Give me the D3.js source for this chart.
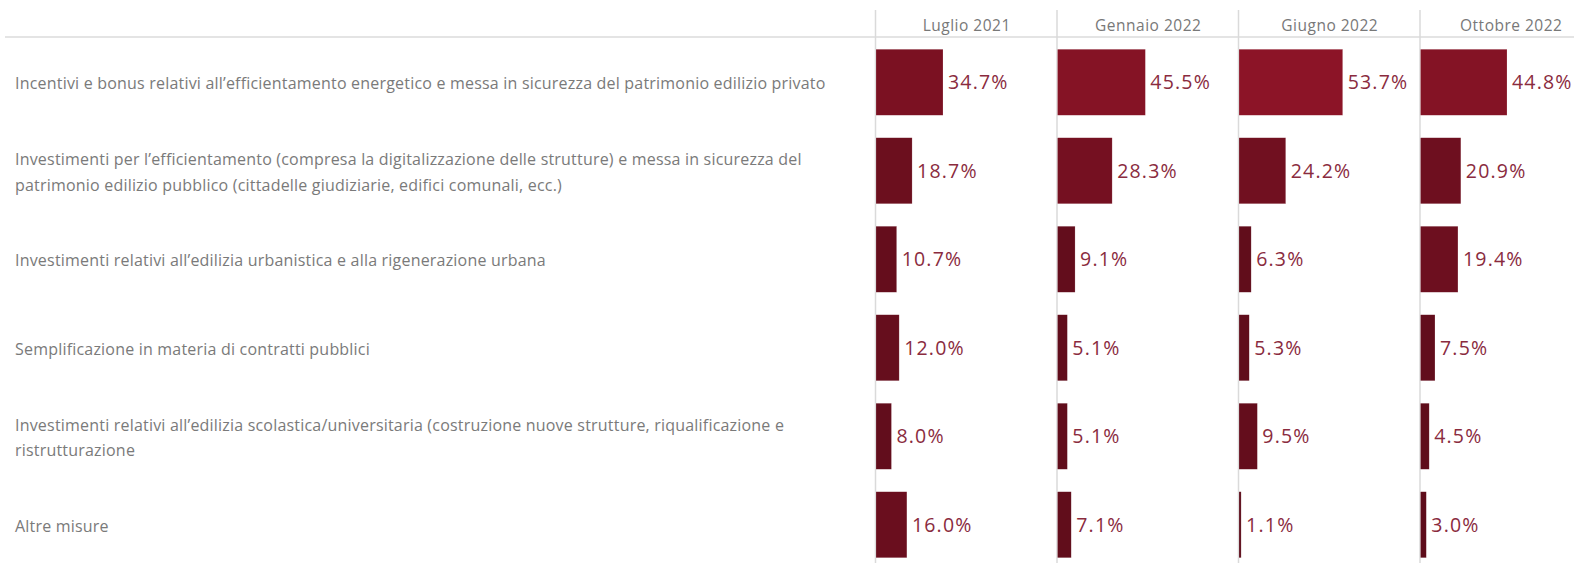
<meta charset="utf-8">
<style>
  body { margin: 0; background: #fff; }
  text { font-family: "Open Sans", Lato, sans-serif; }
</style>
<svg width="1586" height="563"></svg>
<script src="https://cdn.jsdelivr.net/npm/d3@7"></script>
<script>
// categories (rows), each as lines of text
var categories = [
  ["Incentivi e bonus relativi all\u2019efficientamento energetico e messa in sicurezza del patrimonio edilizio privato"],
  ["Investimenti per l\u2019efficientamento (compresa la digitalizzazione delle strutture) e messa in sicurezza del",
   "patrimonio edilizio pubblico (cittadelle giudiziarie, edifici comunali, ecc.)"],
  ["Investimenti relativi all\u2019edilizia urbanistica e alla rigenerazione urbana"],
  ["Semplificazione in materia di contratti pubblici"],
  ["Investimenti relativi all\u2019edilizia scolastica/universitaria (costruzione nuove strutture, riqualificazione e",
   "ristrutturazione"],
  ["Altre misure"]
];
var periods = ["Luglio 2021", "Gennaio 2022", "Giugno 2022", "Ottobre 2022"];

// values (%) per period, in category order
var luglio2021  = [34.7, 18.7, 10.7, 12.0, 8.0, 16.0];
var gennaio2022 = [45.5, 28.3, 9.1, 5.1, 5.1, 7.1];
var giugno2022  = [53.7, 24.2, 6.3, 5.3, 9.5, 1.1];
var ottobre2022 = [44.8, 20.9, 19.4, 7.5, 4.5, 3.0];
var series = [luglio2021, gennaio2022, giugno2022, ottobre2022];

var svg = d3.select("svg"),
    width = +svg.attr("width"),
    height = +svg.attr("height");

var headerY = 38,
    rowStep = 88.5,
    colStart = 876,
    colW = 181.5;

var rowIdx = d3.range(categories.length);

var y = d3.scaleBand()
  .domain(rowIdx)
  .range([headerY, headerY + rowStep * categories.length])
  .paddingInner(0.254)
  .paddingOuter(0.127);

var col = d3.scaleBand()
  .domain(periods)
  .range([colStart, colStart + colW * periods.length]);

var x = d3.scaleLinear()
  .domain([0, 94])
  .range([0, colW]);

var allVals = d3.merge(series);
var color = d3.scaleLinear()
  .domain([d3.min(allVals), d3.max(allVals)])
  .range(["#5c0c1a", "#8c1427"]);

// header line
svg.append("line")
  .attr("x1", 5).attr("x2", width - 12)
  .attr("y1", headerY - 1).attr("y2", headerY - 1)
  .attr("stroke", "#e4e4e4").attr("stroke-width", 2);

// column separators
svg.append("g").selectAll("line")
  .data(periods)
  .enter().append("line")
    .attr("x1", function(d) { return col(d) - 0.5; })
    .attr("x2", function(d) { return col(d) - 0.5; })
    .attr("y1", 10).attr("y2", height)
    .attr("stroke", "#dadada").attr("stroke-width", 1.5);

// column headers
svg.append("g").selectAll("text")
  .data(periods)
  .enter().append("text")
    .attr("x", function(d) { return col(d) + colW / 2; })
    .attr("y", 31)
    .attr("text-anchor", "middle")
    .attr("fill", "#787878")
    .attr("font-size", "15.5px")
    .attr("letter-spacing", "0.5px")
    .text(function(d) { return d; });

// row labels
var labels = svg.append("g").selectAll("text")
  .data(rowIdx)
  .enter().append("text")
    .attr("x", 15)
    .attr("y", function(i) {
      var n = categories[i].length;
      return y(i) + y.bandwidth() / 2 - (n - 1) * 12.5 + 7;
    })
    .attr("fill", "#7a7a7a")
    .attr("font-size", "16px")
    .attr("letter-spacing", "0.2px");

labels.selectAll("tspan")
  .data(function(i) { return categories[i]; })
  .enter().append("tspan")
    .attr("x", 15)
    .attr("dy", function(d, j) { return j ? 25.5 : 0; })
    .text(function(d) { return d; });

// bars and value labels per period
periods.forEach(function(p, k) {
  var g = svg.append("g")
    .attr("transform", "translate(" + col(p) + ",0)");

  g.selectAll("rect")
    .data(series[k])
    .enter().append("rect")
      .attr("x", 0)
      .attr("y", function(d, i) { return y(i); })
      .attr("width", function(d) { return x(d); })
      .attr("height", y.bandwidth())
      .attr("fill", function(d) { return color(d); })
      .attr("stroke", "#ffffff")
      .attr("stroke-opacity", 0.35)
      .attr("stroke-width", 0.5);

  g.selectAll("text")
    .data(series[k])
    .enter().append("text")
      .attr("x", function(d) { return x(d) + 5; })
      .attr("y", function(d, i) { return y(i) + y.bandwidth() / 2 + 7; })
      .attr("fill", "#8a2b3e")
      .attr("font-size", "19.5px")
      .attr("letter-spacing", "1.2px")
      .text(function(d) { return d.toFixed(1) + "%"; });
});
</script>
